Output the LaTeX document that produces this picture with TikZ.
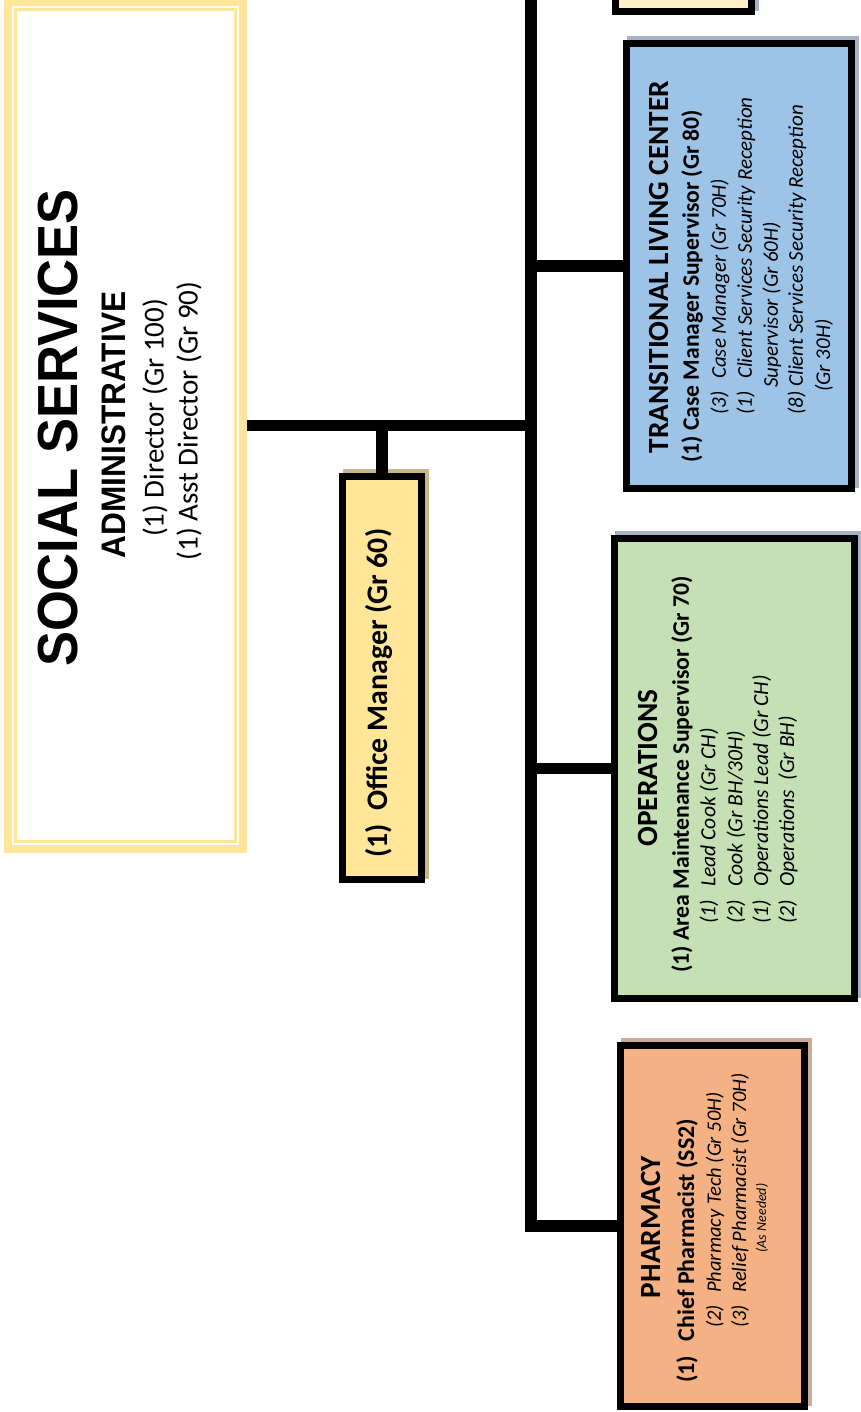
\documentclass[tikz,border=0pt]{standalone}
\usepackage{fontspec}
\setmainfont{Carlito}
\newfontfamily\headfont{Liberation Sans}[FakeStretch=0.93]
\usetikzlibrary{backgrounds}

\definecolor{ssgold}{HTML}{FFE699}
\definecolor{omfill}{HTML}{FFE699}
\definecolor{tlcfill}{HTML}{9DC3E6}
\definecolor{opsfill}{HTML}{C5E0B4}
\definecolor{phfill}{HTML}{F4B183}
\definecolor{upfill}{HTML}{FFF0C8}
\definecolor{shtan}{HTML}{C9B585}
\definecolor{shblue}{HTML}{A7B2C6}
\definecolor{shrose}{HTML}{CDAA9C}

\newcommand{\fsz}[1]{\fontsize{#1}{#1}\selectfont}

\tikzset{
  unitbox/.style={draw=black, line width=7pt, outer sep=0pt, inner sep=0pt},
  conn/.style={draw=black, line width=11.5pt},
  rtxt/.style={rotate=90, inner sep=0pt, anchor=west},
  ctxt/.style={rotate=90, inner sep=0pt},
}

\newcommand{\boxshadow}[2]{%
  \fill[#2] ([shift={(0.5,-7.5)}]#1.north west) rectangle ([shift={(7.5,-0.5)}]#1.south east);}

\begin{document}
\begin{tikzpicture}[x=1pt, y={(0pt,-1pt)}]
\useasboundingbox (0,0) rectangle (861,1412);
\clip (0,0) rectangle (861,1412);

% department boxes
\node[draw=ssgold, line width=8pt, outer sep=4pt, inner sep=0pt,
      minimum width=235pt, minimum height=847pt] (ss) at (125.5,425.5) {};
\draw[ssgold, line width=2.5pt]
  ([shift={(11.5,11.5)}]ss.north west) rectangle ([shift={(-11.5,-11.5)}]ss.south east);

\node[unitbox, fill=omfill, minimum width=79pt, minimum height=403pt] (om) at (382,678) {};
\node[unitbox, fill=upfill, minimum width=136pt, minimum height=112pt] (up) at (683.5,-44.5) {};
\node[unitbox, fill=tlcfill, minimum width=225pt, minimum height=445pt] (tlc) at (739,266) {};
\node[unitbox, fill=opsfill, minimum width=240pt, minimum height=460pt] (ops) at (734.5,768.5) {};
\node[unitbox, fill=phfill, minimum width=184pt, minimum height=361pt] (ph) at (712.5,1226) {};

% drop shadows
\begin{scope}[on background layer]
  \boxshadow{om}{shtan}
  \boxshadow{up}{shblue}
  \boxshadow{tlc}{shblue}
  \boxshadow{ops}{shblue}
  \boxshadow{ph}{shrose}
\end{scope}

% connectors
\coordinate (trunk) at (531,-80);
\draw[conn] (trunk) |- (ph.west);
\draw[conn] (ss.east) -- (ss.east -| trunk);
\draw[conn] (om.north) -- (om.north |- ss.east);
\draw[conn] (trunk |- up.west) -- (up.west);
\draw[conn] (trunk |- tlc.west) -- (tlc.west);
\draw[conn] (trunk |- ops.west) -- (ops.west);

% social services
\node[ctxt, font=\headfont\bfseries\fsz{56.5}] (ssname) at (58,428) {SOCIAL SERVICES};
\node[ctxt, font=\headfont\bfseries\fsz{34}] (ssadm) at (114,425) {ADMINISTRATIVE};
\node[ctxt, font=\fsz{29}] (ssdir) at (155,418) {(1) Director (Gr 100)};
\node[ctxt, font=\fsz{29}] (ssasst) at (189,421) {(1) Asst Director (Gr 90)};

% office manager
\node[rtxt, font=\bfseries\fsz{29.8}] (omtxt) at (379,858) {(1)\ \ Office Manager (Gr 60)};

% transitional living center
\node[ctxt, font=\bfseries\fsz{29.3}] (tlchead) at (659,267) {TRANSITIONAL LIVING CENTER};
\node[rtxt, font=\bfseries\fsz{23.6}] (tlcsup) at (692,463) {(1) Case Manager Supervisor (Gr 80)};
\node[rtxt, font=\itshape\fsz{21}] (tlca) at (720,415) {(3)\hspace{0.6em}Case Manager (Gr 70H)};
\node[rtxt, font=\itshape\fsz{21}] (tlcb) at (746,415) {(1)\hspace{0.6em}Client Services Security Reception};
\node[rtxt, font=\itshape\fsz{21}] (tlcb2) at (772,388) {Supervisor (Gr 60H)};
\node[rtxt, font=\itshape\fsz{21}] (tlcc) at (797,415) {(8) Client Services Security Reception};
\node[rtxt, font=\itshape\fsz{21}] (tlcc2) at (824,392) {(Gr 30H)};

% operations
\node[ctxt, font=\bfseries\fsz{29.3}] (opshead) at (648,768) {OPERATIONS};
\node[rtxt, font=\bfseries\fsz{23.7}] (opssup) at (682,973) {(1) Area Maintenance Supervisor (Gr 70)};
\node[rtxt, font=\itshape\fsz{21.6}] (opsa) at (709,924) {(1)\hspace{0.6em}Lead Cook (Gr CH)};
\node[rtxt, font=\itshape\fsz{21.6}] (opsb) at (736,924) {(2)\hspace{0.6em}Cook (Gr BH/30H)};
\node[rtxt, font=\itshape\fsz{21.6}] (opsc) at (762,924) {(1)\hspace{0.6em}Operations Lead (Gr CH)};
\node[rtxt, font=\itshape\fsz{21.6}] (opsd) at (788,924) {(2)\hspace{0.6em}Operations\ \ (Gr BH)};

% pharmacy
\node[ctxt, font=\bfseries\fsz{29.3}] (phhead) at (651,1227) {PHARMACY};
\node[rtxt, font=\bfseries\fsz{24}] (phsup) at (687,1383) {(1)\hspace{0.6em}Chief Pharmacist (SS2)};
\node[rtxt, font=\itshape\fsz{20.5}] (pha) at (715,1328) {(2)\hspace{0.6em}Pharmacy Tech (Gr 50H)};
\node[rtxt, font=\itshape\fsz{20.5}] (phb) at (740,1328) {(3)\hspace{0.6em}Relief Pharmacist (Gr 70H)};
\node[ctxt, font=\itshape\fsz{14}] (phc) at (762,1218) {(As Needed)};
\end{tikzpicture}
\end{document}
